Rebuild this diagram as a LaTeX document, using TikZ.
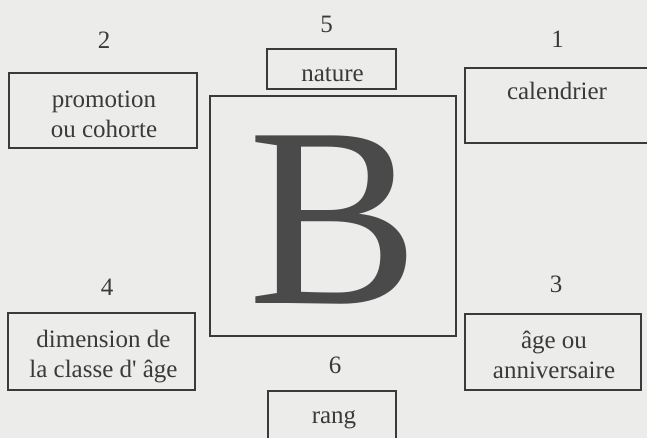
\documentclass[tikz,border=0pt]{standalone}
\usepackage{fontspec}
\setmainfont{Liberation Serif}
\definecolor{papier}{HTML}{ECECEA}
\definecolor{encre}{HTML}{3A3A3A}
\definecolor{encreB}{HTML}{4A4A4A}

\begin{document}
\begin{tikzpicture}[x=1pt,y=-1pt,every node/.style={font=\fontsize{25}{30}\selectfont,text=encre,inner sep=0pt},
        cadre/.style={draw=encre,line width=1.7pt},
        etiq/.style={anchor=base,align=center}]
                \fill[papier] (0,0) rectangle (647,438);
                \useasboundingbox (0,0) rectangle (647,438);
                % les cadres
                \node[cadre,minimum width=188pt,minimum height=75pt] (promo) at (103,110.5) {};
                \node[cadre,minimum width=129pt,minimum height=40pt] (nature) at (331.5,69) {};
                \node[cadre,minimum width=184pt,minimum height=75pt] (calend) at (557,105.5) {};
                \node[cadre,minimum width=246pt,minimum height=240pt] (centre) at (333,216) {};
                \node[cadre,minimum width=187pt,minimum height=77pt] (dimension) at (101.5,351.5) {};
                \node[cadre,minimum width=176pt,minimum height=76pt] (age) at (553,352) {};
                \node[cadre,minimum width=128pt,minimum height=60pt] (rang) at (332,421) {};
                % les textes (base = derniere ligne)
                \node[etiq] (promotxt) at (104,138) {promotion\\ou cohorte};
                \node[etiq] (naturetxt) at (332.5,82) {nature};
                \node[etiq] (calendtxt) at (557,100) {calendrier};
                \node[etiq] (dimtxt) at (103.5,377) {dimension de\\la classe d\textquotesingle{} âge};
                \node[etiq] (agetxt) at (554,378) {âge ou\\anniversaire};
                \node[etiq] (rangtxt) at (334,423) {rang};
                \node[anchor=base,text=encreB,font=\fontsize{256}{256}\selectfont] (lettre) at (334,303) {B};
                % les numeros
                \node[etiq] (n1) at (557.5,48) {1};
                \node[etiq] (n2) at (104,49) {2};
                \node[etiq] (n3) at (556,292) {3};
                \node[etiq] (n4) at (107,295) {4};
                \node[etiq] (n5) at (326.5,33) {5};
                \node[etiq] (n6) at (335,373) {6};
            \end{tikzpicture}
\end{document}
